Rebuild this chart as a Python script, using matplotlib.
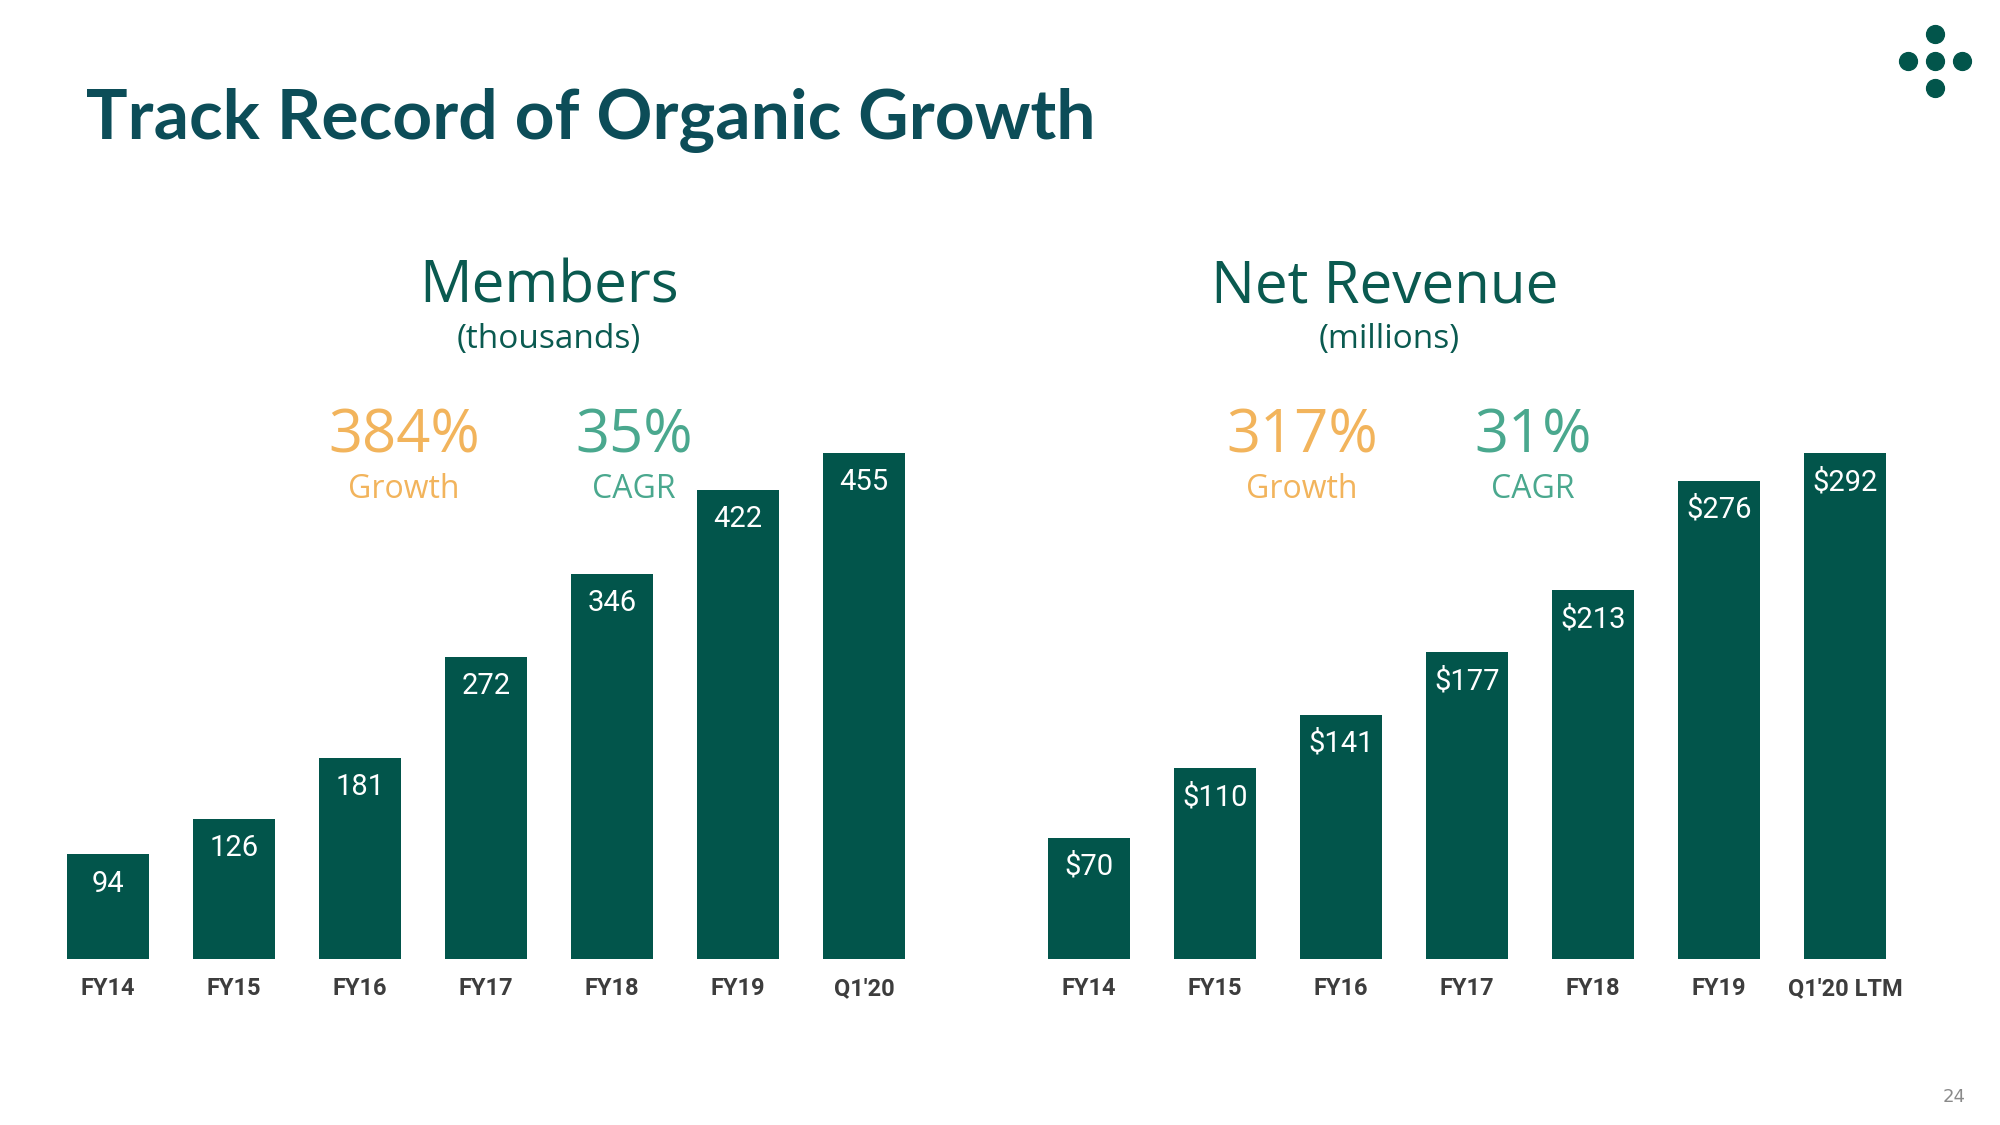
import matplotlib
matplotlib.use("Agg")
import matplotlib.pyplot as plt

# data
member_years = ["FY14", "FY15", "FY16", "FY17", "FY18", "FY19", "Q1'20"]
members = [94, 126, 181, 272, 346, 422, 455]
revenue_years = ["FY14", "FY15", "FY16", "FY17", "FY18", "FY19", "Q1'20 LTM"]
revenue = [70, 110, 141, 177, 213, 276, 292]
member_labels = [str(v) for v in members]
revenue_labels = ["$%d" % v for v in revenue]

bar_color = "#02554b"
title_color = "#0c4d58"
head_color = "#0a5a50"
orange = "#f2b45c"
green = "#4aa88e"
tick_color = "#3d3d3d"

fig = plt.figure(figsize=(20, 11.25), dpi=100)
fig.patch.set_facecolor("white")

W, H = 2000.0, 1125.0


def fx(x):
    return x / W


def fy(y):
    return 1 - y / H


def bar_panel(left, cats, vals, labels):
    ax = fig.add_axes([fx(left), fy(959), fx(882), 506 / H])
    x = range(len(vals))
    ax.bar(x, vals, width=0.65, color=bar_color)
    ax.set_xlim(-0.5, len(vals) - 0.5)
    ax.set_ylim(0, max(vals))
    for i, (v, lab) in enumerate(zip(vals, labels)):
        ax.annotate(lab, (i, v), xytext=(0, -21), textcoords="offset points",
                    ha="center", va="center", color="white", fontsize=21,
                    family="Roboto")
    ax.set_xticks(list(x))
    ax.set_xticklabels(cats, fontsize=17, fontweight="bold", color=tick_color,
                       family="Roboto")
    ax.tick_params(axis="x", length=0, pad=13)
    ax.set_yticks([])
    for s in ax.spines.values():
        s.set_visible(False)
    ax.patch.set_alpha(0)
    return ax


bar_panel(45, member_years, members, member_labels)
bar_panel(1026, revenue_years, revenue, revenue_labels)

# title
fig.text(fx(86), fy(139), "Track Record of Organic Growth", fontsize=50,
         fontweight="bold", color=title_color, family="Lato", ha="left",
         va="baseline")

# panel headings
fig.text(fx(549), fy(287), "Members", fontsize=42, color=head_color,
         family="Open Sans", ha="center", va="center")
fig.text(fx(549), fy(340), "(thousands)", fontsize=24, color=head_color,
         family="Open Sans", ha="center", va="center")
fig.text(fx(1385), fy(287), "Net Revenue", fontsize=42, color=head_color,
         family="Open Sans", ha="center", va="center")
fig.text(fx(1389), fy(340), "(millions)", fontsize=24, color=head_color,
         family="Open Sans", ha="center", va="center")

# stats
stats = [(404, "384%", "Growth", orange), (634, "35%", "CAGR", green),
         (1302, "317%", "Growth", orange), (1533, "31%", "CAGR", green)]
for x, big, small, c in stats:
    fig.text(fx(x), fy(437), big, fontsize=43, color=c, family="Open Sans",
             ha="center", va="center")
    fig.text(fx(x), fy(490), small, fontsize=23, color=c, family="Open Sans",
             ha="center", va="center")

# logo
lax = fig.add_axes([fx(1890), fy(106), fx(90), 90 / H])
lax.scatter([0, -1, 0, 1, 0], [1, 0, 0, 0, -1], s=165, color=bar_color)
lax.set_xlim(-1.67, 1.67)
lax.set_ylim(-1.67, 1.67)
lax.axis("off")

fig.text(fx(1954), fy(1097), "24", fontsize=13, color="#8a8a8a",
         ha="center", va="center")

fig.savefig("out.png", dpi=100, facecolor="white")
